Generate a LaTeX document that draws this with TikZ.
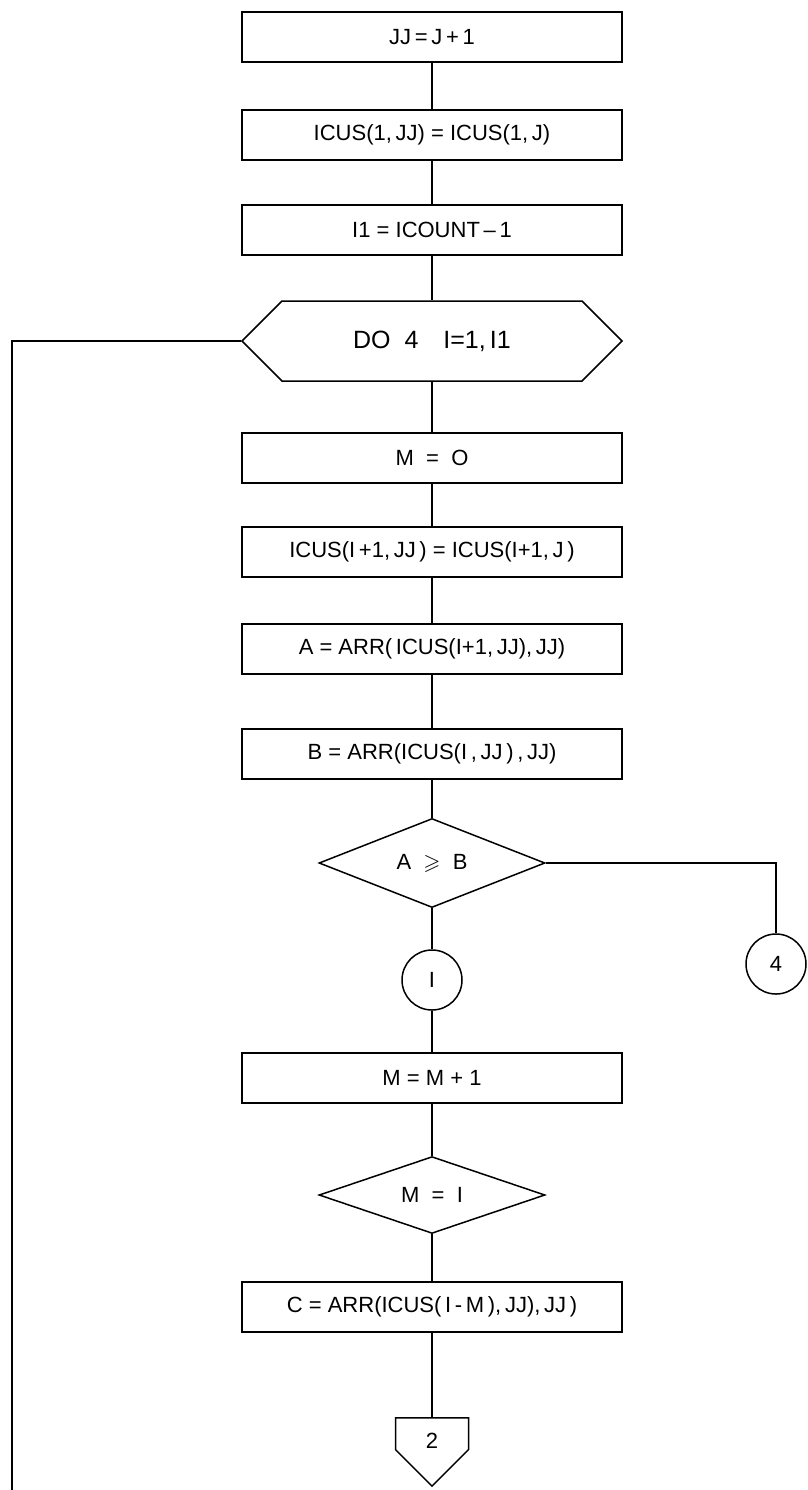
\documentclass[tikz,border=0pt]{standalone}
\usepackage{fontspec}
\usepackage{amssymb}
\setmainfont{Liberation Sans}
\usetikzlibrary{shapes.geometric,shapes.symbols}
\begin{document}
\begin{tikzpicture}[x=0.5pt,y=-0.5pt,line width=0.75pt,
  font=\fontsize{11}{13}\selectfont,
  stepbox/.style={draw,rectangle,minimum width=190pt,minimum height=25pt,inner sep=0pt},
  loopbox/.style={draw,signal,signal to=west and east,signal pointer angle=90,minimum width=190pt,minimum height=40pt,inner sep=0pt,font=\fontsize{12.5}{14}\selectfont},
  testbox/.style={draw,diamond,minimum width=113pt,minimum height=37pt,inner sep=0pt},
  joinpt/.style={draw,circle,minimum size=30pt,inner sep=0pt},
  pagept/.style={draw,signal,signal to=south,signal pointer angle=90,minimum width=36.5pt,minimum height=19pt,inner sep=0pt,text height=15pt,text depth=0pt}]
\useasboundingbox (0,0) rectangle (808,1490);
\node[stepbox] (jj) at (432,37) {JJ\,=\,J\,+\,1};
\node[stepbox] (cus1) at (432,135) {ICUS(1,\,JJ) = ICUS(1,\,J)};
\node[stepbox] (icnt) at (432,230) {I1 = ICOUNT\,–\,1};
\node[loopbox] (do4) at (432,341) {DO\ \ 4\quad I=1,\,I1};
\node[stepbox] (mzero) at (432,458) {M\ \ =\ \ O};
\node[stepbox] (cusi) at (432,552) {ICUS(I\,+1,\,JJ\,) = ICUS(I+1,\,J\,)};
\node[stepbox] (aval) at (432,649) {A = ARR(\,ICUS(I+1,\,JJ),\,JJ)};
\node[stepbox] (bval) at (432,754) {B = ARR(ICUS(I\,,\,JJ\,)\,,\,JJ)};
\node[testbox] (ab) at (432,863) {A\ \ $\geqslant$\ \ B};
\node[joinpt] (one) at (432,980) {I};
\node[joinpt] (four) at (776,964) {4};
\node[stepbox] (minc) at (432,1078) {M = M + 1};
\node[testbox] (mone) at (432,1195) {M\ \ =\ \ I};
\node[stepbox] (cval) at (432,1307) {C = ARR(ICUS(\,I\,-\,M\,),\,JJ),\,JJ\,)};
\node[pagept,anchor=north] (two) at (432,1417) {2};
\coordinate (loopend) at (12,1490);
\foreach \a/\b in {jj/cus1,cus1/icnt,icnt/do4,do4/mzero,mzero/cusi,cusi/aval,aval/bval,bval/ab,ab/one,one/minc,minc/mone,mone/cval,cval/two}
  \draw (\a.south) -- (\b.north);
\draw (ab.east) -| (four.north);
\draw (do4.west) -| (loopend);
\end{tikzpicture}
\end{document}
